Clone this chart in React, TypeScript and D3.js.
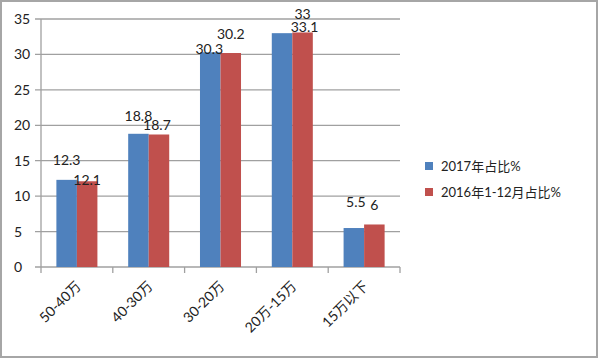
import React from "react";
import * as d3 from "d3";

const categories = ["50-40万", "40-30万", "30-20万", "20万-15万", "15万以下"];
const seriesNames = ["2017年占比%", "2016年1-12月占比%"];
const values2017 = [12.3, 18.8, 30.3, 33, 5.5];
const values2016 = [12.1, 18.7, 30.2, 33.1, 6];
const yTicks = [0, 5, 10, 15, 20, 25, 30, 35];
const colors = ["#4F81BD", "#C0504D"];
// label nudges (dx, dy) relative to bar centre / bar top, per series per category
const labelNudge2017 = [[0, -15], [0, -13], [-1, 2], [20.5, -14], [2, -21]];
const labelNudge2016 = [[0, 4], [-2, -4.5], [0, -14], [2, 0], [0, -14]];

const W = 600, H = 360;
const FONT = "Lato, 'Noto Sans CJK SC', sans-serif";

export default function App() {
  const left = 41, right = 400, top = 19, bottom = 267;
  const x = d3.scaleBand<string>().domain(categories).range([left, right]).padding(0);
  const xs = d3.scaleBand<string>().domain(seriesNames).range([0, x.bandwidth()]).paddingInner(0).paddingOuter(0.75);
  const y = d3.scaleLinear().domain([0, 35]).range([bottom, top]);
  const series = [values2017, values2016];
  const nudges = [labelNudge2017, labelNudge2016];
  const fmt = (v: number) => String(v);

  return (
    <svg width={W} height={H} style={{ position: "absolute", left: 0, top: 0, background: "#fff" }} fontFamily={FONT}>
      <rect x={1} y={1} width={596} height={356} fill="#fff" stroke="#a6a6a6" strokeWidth={2} />
      {yTicks.map((t) => (
        <g key={t}>
          <line x1={left - 6} x2={right} y1={y(t)} y2={y(t)} stroke="#a0a0a0" strokeWidth={1.3} />
          <text x={14} y={y(t)} dy="0.36em" fontSize={14} fill="#222">{t}</text>
        </g>
      ))}
      <line x1={left} x2={left} y1={top} y2={bottom} stroke="#a0a0a0" strokeWidth={1.3} />
      {categories.map((c, i) => (
        <line key={"tk" + i} x1={x(c)!} x2={x(c)!} y1={bottom} y2={bottom + 6} stroke="#a0a0a0" strokeWidth={1.3} />
      ))}
      <line x1={right} x2={right} y1={bottom} y2={bottom + 6} stroke="#a0a0a0" strokeWidth={1.3} />
      {series.map((vals, s) =>
        vals.map((v, i) => {
          const bx = x(categories[i])! + xs(seriesNames[s])!;
          return (
            <rect key={`b${s}-${i}`} x={bx} y={y(v)} width={xs.bandwidth()} height={bottom - y(v)} fill={colors[s]} />
          );
        })
      )}
      {series.map((vals, s) =>
        vals.map((v, i) => {
          const bx = x(categories[i])! + xs(seriesNames[s])! + xs.bandwidth() / 2;
          const [dx, dy] = nudges[s][i];
          return (
            <text key={`l${s}-${i}`} x={bx + dx} y={y(v) + dy} textAnchor="middle" fontSize={14} fill="#222">
              {fmt(v)}
            </text>
          );
        })
      )}
      {categories.map((c, i) => {
        const cx = x(c)! + x.bandwidth() / 2;
        return (
          <text key={"xl" + i} transform={`translate(${cx + 5},${bottom + 20}) rotate(-45)`} textAnchor="end" fontSize={14} fill="#222">
            {c}
          </text>
        );
      })}
      {seriesNames.map((n, s) => (
        <g key={"lg" + s} transform={`translate(425,${162 + s * 26})`}>
          <rect x={0} y={0} width={8} height={8} fill={colors[s]} />
          <text x={16} y={4} dy="0.36em" fontSize={13} fill="#222">{n}</text>
        </g>
      ))}
    </svg>
  );
}
